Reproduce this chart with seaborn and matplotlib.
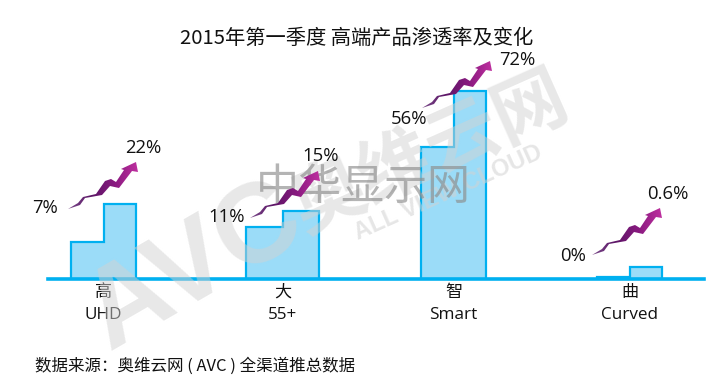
import numpy as np
import pandas as pd
import matplotlib
matplotlib.use("Agg")
import matplotlib.pyplot as plt
from matplotlib.patches import Polygon
from matplotlib.colors import LinearSegmentedColormap
import seaborn as sns

sns.set_theme(style="white")
plt.rcParams['font.family'] = ['Open Sans', 'Noto Sans CJK SC', 'DejaVu Sans']

W, H = 722, 388
title = "2015年第一季度 高端产品渗透率及变化"
footer = "数据来源：奥维云网 ( AVC ) 全渠道推总数据"
categories = ["高\nUHD", "大\n55+", "智\nSmart", "曲\nCurved"]
group_centers = [103.5, 282.5, 453.5, 629.5]
group_widths = [65, 73, 65, 65]
periods = ["before", "after"]
# drawn bar heights as they appear in the picture (percent-equivalent on the Smart scale)
drawn_before = [14, 20, 50.4, 0.4]
drawn_after = [28.5, 26, 72, 4.6]
labels_before = ["7%", "11%", "56%", "0%"]
labels_after = ["22%", "15%", "72%", "0.6%"]
before_pos = [(45, 208), (227, 217), (409, 119), (573, 256)]
after_pos = [(143, 148), (321, 156), (517, 60), (668, 194)]
arrow_starts = [(68, 209), (250, 218), (422, 108), (592, 255)]
arrow_outline = np.array([(0, 0), (10, -6), (15, -12), (28, -15), (37, -28), (43, -30),
                          (48, -27), (56, -39), (53, -40), (68, -47), (70, -37), (64, -38),
                          (51, -21), (42, -23), (34, -14), (17, -11), (12, -4)], float)

BLUE = "#00b0f0"
FILL = "#9bdcf8"

fig = plt.figure(figsize=(W / 100, H / 100), dpi=100, facecolor="white")
base_y, top_y, left, right = 278.5, 40, 48, 704
ax = fig.add_axes([left / W, 1 - base_y / H, (right - left) / W, (base_y - top_y) / H])

df = pd.DataFrame({
    "x": group_centers * 2,
    "value": drawn_before + drawn_after,
    "period": [periods[0]] * 4 + [periods[1]] * 4,
})
sns.barplot(data=df, x="x", y="value", hue="period", hue_order=periods,
            palette=[FILL, FILL], native_scale=True, legend=False, ax=ax,
            linewidth=0, gap=0, width=0.38, saturation=1)

# adjacent bars per group with the reference's group widths, joined by one stepped outline
bars = sorted(ax.patches, key=lambda p: p.get_x())
for i, (c, w) in enumerate(zip(group_centers, group_widths)):
    a, b = bars[2 * i], bars[2 * i + 1]
    a.set_x(c - w / 2); a.set_width(w / 2)
    b.set_x(c); b.set_width(w / 2)
    ax.plot([c - w / 2, c - w / 2, c, c, c + w / 2, c + w / 2],
            [0, a.get_height(), a.get_height(), b.get_height(), b.get_height(), 0],
            color=BLUE, lw=1.6, solid_joinstyle="miter", solid_capstyle="butt")

ax.set_xlim(left, right)
ax.set_ylim(0, (base_y - top_y) / 2.6)
ax.set_xticks(group_centers)
ax.set_xticklabels(categories, fontsize=12.3, color="#111111", linespacing=1.55)
ax.tick_params(axis="x", length=0, pad=4.5)
ax.set_yticks([])
ax.set_xlabel(""); ax.set_ylabel("")
for s in ["top", "left", "right"]:
    ax.spines[s].set_visible(False)
ax.spines["bottom"].set_color(BLUE)
ax.spines["bottom"].set_linewidth(2.6)
ax.spines["bottom"].set_zorder(5)
ax.patch.set_alpha(0)

# overlay in pixel coordinates
ov = fig.add_axes([0, 0, 1, 1], zorder=5)
ov.set_xlim(0, W); ov.set_ylim(H, 0); ov.axis("off")

wm = "#d2d2d2"
ov.text(195, 268, "AVC", fontsize=82, fontweight="bold", color=wm, alpha=0.5, rotation=30,
        ha="center", va="center", family=["Liberation Sans"])
ov.text(431, 154, "奥维云网", fontsize=53, fontweight="bold", color=wm, alpha=0.5, rotation=24,
        ha="center", va="center", family=["Noto Sans CJK SC"])
ov.text(448, 193, "ALL VIEW CLOUD", fontsize=17, fontweight="bold", color=wm, alpha=0.55, rotation=24,
        ha="center", va="center", family=["Liberation Sans"])
ov.text(363.5, 188, "中华显示网", fontsize=31, fontweight="medium", color="#8c8c8c", alpha=0.65,
        ha="center", va="center", family=["Noto Sans CJK SC"])

cmap = LinearSegmentedColormap.from_list("arrow", ["#7a4a8a", "#5c1566", "#8a1a80", "#c030a0"])
grad = np.linspace(0, 1, 64).reshape(1, -1)
for sx, sy in arrow_starts:
    pts = arrow_outline + (sx, sy)
    poly = Polygon(pts, closed=True, facecolor="none", edgecolor="none")
    ov.add_patch(poly)
    im = ov.imshow(grad, cmap=cmap, extent=(sx, sx + 71, sy + 1, sy - 48), aspect="auto", zorder=3)
    im.set_clip_path(poly)
ov.set_xlim(0, W); ov.set_ylim(H, 0)

for txts, pos in ((labels_before, before_pos), (labels_after, after_pos)):
    for t, (x, y) in zip(txts, pos):
        ov.text(x, y, t, fontsize=13.3, color="#111111", ha="center", va="center", zorder=6)

ov.text(356.5, 38, title, fontsize=14.6, color="#111111", ha="center", va="center",
        family=["Noto Sans CJK SC"])
ov.text(35, 366, footer, fontsize=11.9, color="#111111", ha="left", va="center",
        family=["Noto Sans CJK SC"])

fig.savefig("out.png", dpi=100)
